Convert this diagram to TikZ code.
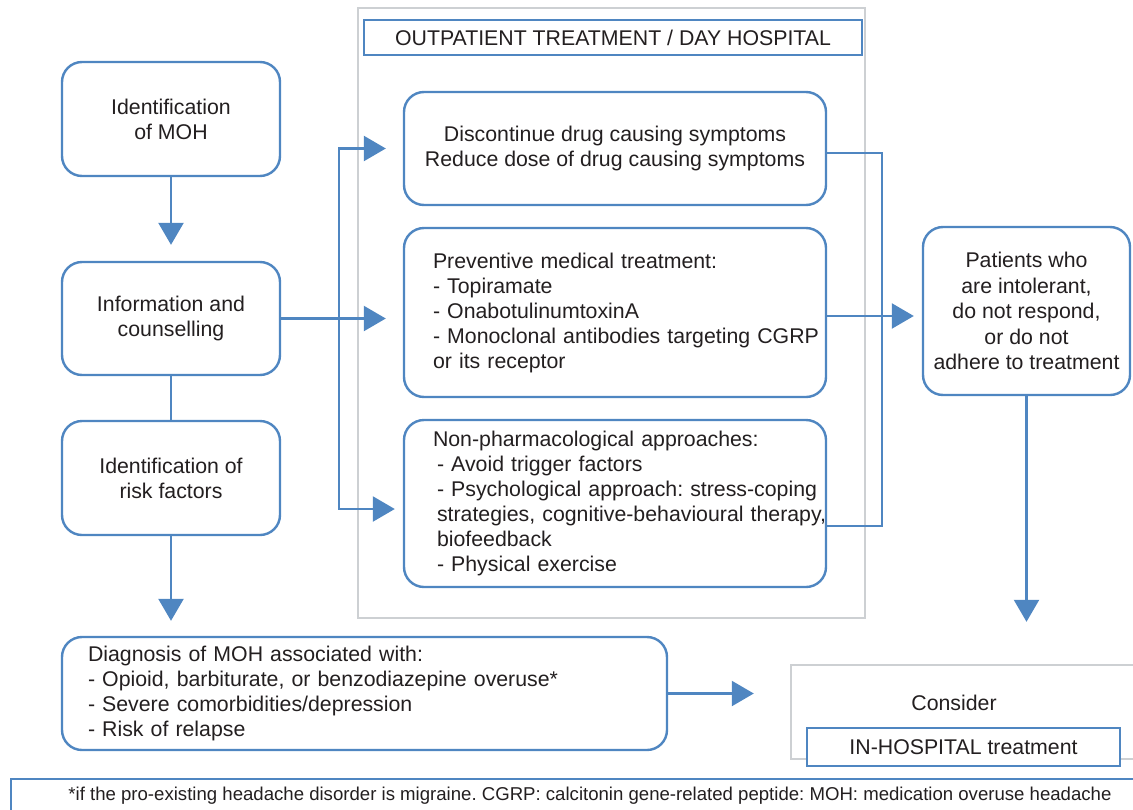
\documentclass[tikz,border=0pt]{standalone}
\usepackage{fontspec}
\setmainfont{Liberation Sans}
\usetikzlibrary{arrows.meta}
\definecolor{cblue}{RGB}{79,134,193}
\definecolor{cgray}{RGB}{205,208,211}
\definecolor{ctext}{RGB}{35,31,32}
\tikzset{
  rbox/.style={draw=cblue, line width=2.4pt, rounded corners=20pt, fill=white, text=ctext, font=\fontsize{21.3}{25}\selectfont, inner sep=0pt},
  sbox/.style={draw=cblue, line width=2.4pt, fill=white, text=ctext, font=\fontsize{21.3}{25}\selectfont, inner sep=0pt},
  gbox/.style={draw=cgray, line width=2.4pt, inner sep=0pt},
  txt/.style={text=ctext, font=\fontsize{21.3}{25}\selectfont, inner sep=0pt},
  conn/.style={draw=cblue, line width=2.4pt},
  arr/.style={conn, -{Triangle[length=22pt,width=25pt]}},
}
\begin{document}
\frenchspacing
\begin{tikzpicture}[x=1pt,y=-1pt]
\useasboundingbox (0,0) rectangle (1133,809);
% outpatient frame
\node[gbox, minimum width=507pt, minimum height=610pt] (outp) at (611.5,313) {};
\node[sbox, minimum width=498pt, minimum height=35pt] (title) at (613,37.5) {OUTPATIENT TREATMENT / DAY HOSPITAL};
% left column
\node[rbox, minimum width=218pt, minimum height=114pt, align=center] (moh) at (171,119) {Identification\\of MOH};
\node[rbox, minimum width=218pt, minimum height=113pt, align=center] (info) at (171,318.5) {Information and\\counselling};
\node[rbox, minimum width=218pt, minimum height=114pt, align=center] (risk) at (171,478) {Identification of\\risk factors};
\node[rbox, minimum width=605pt, minimum height=113pt, text width=553pt, inner xsep=26pt, align=left] (diag) at (364.5,693.5) {Diagnosis of MOH associated with:\\- Opioid, barbiturate, or benzodiazepine overuse*\\- Severe comorbidities/depression\\- Risk of relapse};
% middle column
\node[rbox, minimum width=422pt, minimum height=113pt, align=center] (disc) at (615,148.5) {Discontinue drug causing symptoms\\Reduce dose of drug causing symptoms};
\node[rbox, minimum width=422pt, minimum height=169pt, text width=364pt, inner xsep=29pt, align=left] (prev) at (615,312.5) {Preventive medical treatment:\\- Topiramate\\- OnabotulinumtoxinA\\\mbox{- Monoclonal antibodies targeting CGRP}\\or its receptor};
\node[rbox, minimum width=422pt, minimum height=167pt, text width=364pt, inner xsep=29pt, align=left] (nonph) at (615,503.5) {Non-pharmacological approaches:\\\hspace*{4pt}- Avoid trigger factors\\\hspace*{4pt}\mbox{- Psychological approach: stress-coping}\\\hspace*{4pt}\mbox{strategies, cognitive-behavioural therapy,}\\\hspace*{4pt}biofeedback\\\hspace*{4pt}- Physical exercise};
% right column
\node[rbox, minimum width=207pt, minimum height=168pt, align=center, font=\fontsize{21.3}{25.5}\selectfont] (pat) at (1026.5,311) {Patients who\\are intolerant,\\do not respond,\\or do not\\adhere to treatment};
\node[gbox, minimum width=354pt, minimum height=94pt] (cons) at (968,712) {};
\node[txt] (constxt) at (954,703) {Consider};
\node[sbox, minimum width=313pt, minimum height=38pt] (inhosp) at (963.5,747) {IN-HOSPITAL treatment};
% footnote
\node[sbox, minimum width=1158pt, minimum height=34pt, font=\fontsize{18.6}{22}\selectfont] (foot) at (590,796) {*if the pro-existing headache disorder is migraine. CGRP: calcitonin gene-related peptide: MOH: medication overuse headache};
% connectors
\draw[arr, shorten >=16pt] (moh) -- (info);
\draw[conn] (info) -- (risk);
\draw[arr, shorten >=15pt] (risk) -- (risk |- diag.north);
\draw[arr, shorten >=36pt] (diag.east) -- (diag.east -| cons.west);
\coordinate (lb) at (339,318.5);
\draw[arr, shorten >=17pt] (info.east) -- (prev.west |- info.east);
\draw[arr, shorten >=17pt] (lb) |- (disc.west);
\draw[arr, shorten >=8pt] (lb) |- ([yshift=-5.5pt]nonph.west);
\coordinate (rb) at (882,400);
\draw[conn] ([yshift=-4.5pt]disc.east) -| (rb) |- ([yshift=-22.5pt]nonph.east);
\draw[arr, shorten >=8pt] ([yshift=-3.5pt]prev.east) -- ([yshift=-3.5pt]prev.east -| pat.west);
\draw[arr, shorten >=42pt] (pat.south) -- (pat.south |- cons.north);
\end{tikzpicture}
\end{document}
